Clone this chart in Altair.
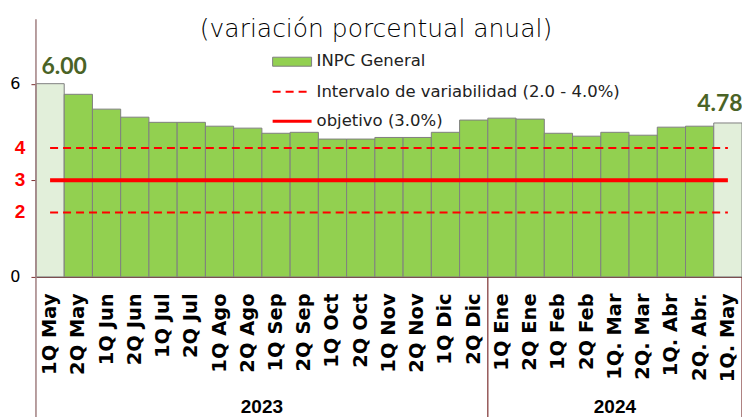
import altair as alt
import pandas as pd

# ---------------- data ----------------
categories = ["1Q May", "2Q May", "1Q Jun", "2Q Jun", "1Q Jul", "2Q Jul", "1Q Ago", "2Q Ago",
              "1Q Sep", "2Q Sep", "1Q Oct", "2Q Oct", "1Q Nov", "2Q Nov", "1Q Dic", "2Q Dic",
              "1Q Ene", "2Q Ene", "1Q Feb", "2Q Feb", "1Q. Mar", "2Q. Mar", "1Q. Abr", "2Q. Abr.",
              "1Q. May"]
inpc = [6.00, 5.67, 5.21, 4.96, 4.80, 4.80, 4.68, 4.62, 4.46, 4.49, 4.28, 4.28, 4.33, 4.33,
        4.49, 4.87, 4.93, 4.90, 4.46, 4.37, 4.49, 4.40, 4.65, 4.68, 4.78]
years = ["2023", "2024"]
year_sizes = [16, 9]
interval_bounds = [4.0, 2.0]
target_value = 3.0
red_labels = ["4", "3", "2"]
red_label_values = [4.0, 3.0, 2.0]
legend_labels = ["INPC General", "Intervalo de variabilidad (2.0 - 4.0%)", "objetivo (3.0%)"]
subtitle = "(variación porcentual anual)"

# ---------------- layout ----------------
W, H = 707, 258
N = len(categories)
band = W / N
GREEN = "#92D050"
LIGHT = "#E2EFDA"
RED = "#FF0000"
BROWN = "#7B2F2F"
AXIS_BROWN = "#A07F80"
LABEL_GREEN = "#4A6326"

df = pd.DataFrame({
    "cat": categories,
    "value": inpc,
    "kind": ["end" if i in (0, N - 1) else "mid" for i in range(N)],
})

X = alt.X("cat:N", sort=categories,
          scale=alt.Scale(paddingInner=0, paddingOuter=0),
          axis=alt.Axis(title=None, labelAngle=-90, labelAlign="right", labelBaseline="middle",
                        labelFont="DejaVu Sans", labelFontWeight="bold", labelFontSize=19.5,
                        labelColor="black", labelPadding=16, ticks=False, domainColor=BROWN,
                        domainWidth=1.2, labelOverlap=False, labelLimit=0, grid=False))
Y = alt.Y("value:Q", scale=alt.Scale(domain=[0, 8], nice=False, zero=True),
          axis=alt.Axis(title=None, values=[0, 3, 6], domain=False, tickSize=5, tickColor=BROWN,
                        labelExpr="datum.value == 3 ? '' : datum.label",
                        labelFont="DejaVu Sans", labelFontSize=16, labelColor="black",
                        labelPadding=11, grid=False))

bars = alt.Chart(df).mark_bar(stroke="#7F7F7F", strokeWidth=1).encode(
    x=X, y=Y,
    color=alt.Color("kind:N", scale=alt.Scale(domain=["end", "mid"], range=[LIGHT, GREEN]), legend=None),
)

# reference lines from first to last category centre
line_rows = []
for v, name in zip(interval_bounds, ["hi", "lo"]):
    line_rows += [{"cat": categories[0], "value": v, "s": name},
                  {"cat": categories[-1], "value": v, "s": name}]
dashed_df = pd.DataFrame(line_rows)
target_df = pd.DataFrame({"cat": [categories[0], categories[-1]], "value": [target_value] * 2})

dashed = alt.Chart(dashed_df).mark_line(color=RED, strokeWidth=2, strokeDash=[8, 5]).encode(
    x=X, y=Y, detail="s:N")
solid = alt.Chart(target_df).mark_line(color=RED, strokeWidth=4).encode(x=X, y=Y)

# end-value labels
first_lbl = alt.Chart(df.iloc[[0]]).mark_text(
    font="Lato", fontWeight="bold", fontSize=23, color=LABEL_GREEN,
    baseline="alphabetic", dx=14, dy=-10).encode(x=X, y=Y, text=alt.Text("value:Q", format=".2f"))
last_lbl = alt.Chart(df.iloc[[N - 1]]).mark_text(
    font="Lato", fontWeight="bold", fontSize=23, color=LABEL_GREEN,
    baseline="alphabetic", dx=-8, dy=-12).encode(x=X, y=Y, text=alt.Text("value:Q", format=".2f"))

# red axis labels
red_df = pd.DataFrame({"value": red_label_values, "t": red_labels})
red_txt = alt.Chart(red_df).mark_text(
    font="Liberation Sans", fontWeight="bold", fontSize=19, color=RED, align="center",
    baseline="middle").encode(x=alt.value(-16), y=Y, text="t:N")

# vertical axis line (full height) and group separators
yline = alt.Chart(pd.DataFrame({"v": [0]})).mark_rule(color=AXIS_BROWN, strokeWidth=1.5).encode(
    x=alt.value(0), y=alt.value(0), y2=alt.value(H + 170))
bounds = []
acc = 0
for n in year_sizes:
    acc += n
    bounds.append(acc * band)
sep_df = pd.DataFrame({"px": bounds})
seps = alt.Chart(sep_df).mark_rule(color=BROWN, strokeWidth=1.2).encode(
    x=alt.X("px:Q", scale=None, axis=None), y=alt.value(H), y2=alt.value(H + 170))

# year labels
centers = []
start = 0
for n in year_sizes:
    centers.append((start + n / 2) * band)
    start += n
year_df = pd.DataFrame({"year": years, "px": centers})
year_txt = alt.Chart(year_df).mark_text(
    font="Liberation Sans", fontWeight="bold", fontSize=19, color="black", align="center",
    baseline="alphabetic").encode(x=alt.X("px:Q", scale=None, axis=None), y=alt.value(H + 136),
                                  text="year:N")

# subtitle
sub = alt.Chart(pd.DataFrame({"t": [subtitle]})).mark_text(
    font="DejaVu Sans", fontSize=25, fontWeight=300, color="black", align="center",
    baseline="alphabetic").encode(x=alt.value(340.5), y=alt.value(18), text="t:N")

# legend
leg_df = pd.DataFrame({"label": legend_labels, "py": [42, 72.5, 102]})
leg_txt = alt.Chart(leg_df).mark_text(
    font="DejaVu Sans", fontSize=16.5, color="#222222", align="left", baseline="middle").encode(
    x=alt.value(281), y=alt.Y("py:Q", scale=None, axis=None), text="label:N")
leg_box = alt.Chart(leg_df.iloc[[0]]).mark_rect(fill=GREEN, stroke="#7F7F7F", strokeWidth=1).encode(
    x=alt.value(237), x2=alt.value(276),
    y=alt.value(38), y2=alt.value(47))
leg_dash = alt.Chart(leg_df.iloc[[1]]).mark_rule(color=RED, strokeWidth=2, strokeDash=[8, 5]).encode(
    x=alt.value(237), x2=alt.value(272), y=alt.Y("py:Q", scale=None, axis=None))
leg_solid = alt.Chart(leg_df.iloc[[2]]).mark_rule(color=RED, strokeWidth=3).encode(
    x=alt.value(237), x2=alt.value(276), y=alt.Y("py:Q", scale=None, axis=None))

chart = alt.layer(
    bars, dashed, solid, first_lbl, last_lbl, red_txt, yline, seps, year_txt, sub,
    leg_box, leg_dash, leg_solid, leg_txt
).properties(
    width=W, height=H,
    padding={"left": 28, "top": 11, "right": 0, "bottom": 150},
    autosize=alt.AutoSizeParams(type="none"),
).configure_view(stroke=None)

chart.save("out.html", embed_options={"renderer": "svg", "actions": False})
